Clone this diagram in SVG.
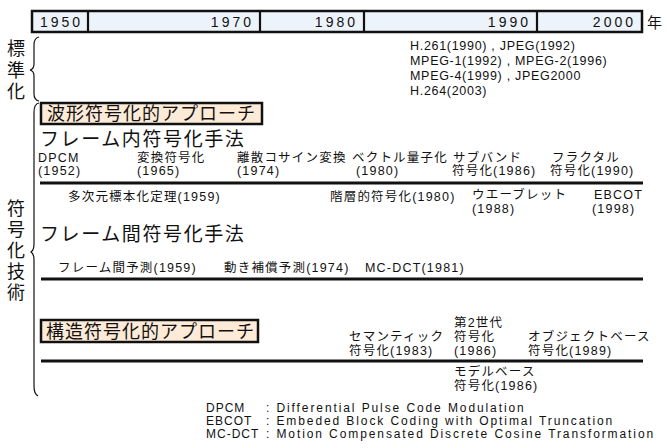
<svg xmlns="http://www.w3.org/2000/svg" width="667" height="448" viewBox="0 0 667 448">
<style>
text{font-family:"Liberation Sans","Noto Sans CJK JP",sans-serif;fill:#111}
.yr{font-size:14px;letter-spacing:3px}
.it{font-size:12.5px;letter-spacing:1.2px}
.std{font-size:12.5px;letter-spacing:0.7px}
.hd{font-size:19px;letter-spacing:1.6px}
.bx{font-size:18px;letter-spacing:1px}
.vt{font-size:18px}
.lg{font-size:12px;letter-spacing:1px}
.lgd{font-size:12px;letter-spacing:1.9px}
.box{fill:#FDEAD7;stroke:#111;stroke-width:2.5}
.rule{stroke:#111;stroke-width:3}
.brace{fill:none;stroke:#111;stroke-width:1.2}
</style>
<g id="timeline">
<rect x="32" y="11" width="610" height="21" fill="#EDF3FA" stroke="#111" stroke-width="2.5"/>
<g stroke="#111" stroke-width="2.2">
<line x1="88" y1="11" x2="88" y2="32"/>
<line x1="260" y1="11" x2="260" y2="32"/>
<line x1="364" y1="11" x2="364" y2="32"/>
<line x1="537" y1="11" x2="537" y2="32"/>
</g>
<text class="yr" x="40" y="27">1950</text>
<text class="yr" x="254" y="27" text-anchor="end">1970</text>
<text class="yr" x="358" y="27" text-anchor="end">1980</text>
<text class="yr" x="531" y="27" text-anchor="end">1990</text>
<text class="yr" x="636" y="27" text-anchor="end">2000</text>
<text x="647" y="28" font-size="15">年</text>
</g>
<g id="standard">
<text class="vt" x="16" y="55" text-anchor="middle">標</text>
<text class="vt" x="16" y="77" text-anchor="middle">準</text>
<text class="vt" x="16" y="98" text-anchor="middle">化</text>
<path class="brace" d="M39,37 Q34,38 34,45 L34,64 Q34,69 30,70 Q34,71 34,76 L34,94 Q34,100 39,101"/>
<text class="std" x="410" y="50">H.261(1990) , JPEG(1992)</text>
<text class="std" x="410" y="65">MPEG-1(1992) , MPEG-2(1996)</text>
<text class="std" x="410" y="80">MPEG-4(1999) , JPEG2000</text>
<text class="std" x="410" y="95">H.264(2003)</text>
</g>
<g id="coding">
<text class="vt" x="16" y="215" text-anchor="middle">符</text>
<text class="vt" x="16" y="236" text-anchor="middle">号</text>
<text class="vt" x="16" y="257" text-anchor="middle">化</text>
<text class="vt" x="16" y="278" text-anchor="middle">技</text>
<text class="vt" x="16" y="299" text-anchor="middle">術</text>
<path class="brace" d="M39,103 Q34,104 34,112 L34,244 Q34,250 31,252 Q34,254 34,260 L34,386 Q34,394 38,396"/>
</g>
<g id="waveform">
<rect class="box" x="41" y="103" width="221" height="21"/>
<text class="bx" x="47" y="120">波形符号化的アプローチ</text>
</g>
<g id="intra">
<text class="hd" x="40" y="146">フレーム内符号化手法</text>
<text class="it" x="38" y="162">DPCM</text>
<text class="it" x="38" y="175">(1952)</text>
<text class="it" x="137" y="162">変換符号化</text>
<text class="it" x="137" y="175">(1965)</text>
<text class="it" x="237" y="162">離散コサイン変換</text>
<text class="it" x="237" y="175">(1974)</text>
<text class="it" x="352" y="162">ベクトル量子化</text>
<text class="it" x="356" y="175">(1980)</text>
<text class="it" x="453" y="162">サブバンド</text>
<text class="it" x="452" y="175">符号化(1986)</text>
<text class="it" x="552" y="162">フラクタル</text>
<text class="it" x="550" y="175">符号化(1990)</text>
<text class="it" x="68" y="201">多次元標本化定理(1959)</text>
<text class="it" x="330" y="201">階層的符号化(1980)</text>
<text class="it" x="472" y="199">ウエーブレット</text>
<text class="it" x="472" y="213">(1988)</text>
<text class="it" x="594" y="199">EBCOT</text>
<text class="it" x="592" y="213">(1998)</text>
</g>
<g id="inter">
<text class="hd" x="40" y="241">フレーム間符号化手法</text>
<text class="it" x="58" y="272">フレーム間予測(1959)</text>
<text class="it" x="224" y="272">動き補償予測(1974)</text>
<text class="it" x="365" y="272">MC-DCT(1981)</text>
</g>
<g id="structural">
<rect class="box" x="41" y="320" width="217" height="22"/>
<text class="bx" x="46" y="338">構造符号化的アプローチ</text>
<text class="it" x="349" y="341">セマンティック</text>
<text class="it" x="349" y="355">符号化(1983)</text>
<text class="it" x="454" y="327">第2世代</text>
<text class="it" x="454" y="341">符号化</text>
<text class="it" x="454" y="355">(1986)</text>
<text class="it" x="528" y="341">オブジェクトベース</text>
<text class="it" x="528" y="355">符号化(1989)</text>
<text class="it" x="454" y="376">モデルベース</text>
<text class="it" x="454" y="390">符号化(1986)</text>
</g>
<g id="connectors">
<line class="rule" x1="40" y1="183" x2="643" y2="183"/>
<line class="rule" x1="41" y1="279" x2="643" y2="279"/>
<line class="rule" x1="41" y1="361" x2="643" y2="361"/>
</g>
<g id="legend">
<text class="lg" x="206" y="412">DPCM</text>
<text class="lgd" x="266" y="412">: Differential Pulse Code Modulation</text>
<text class="lg" x="206" y="425">EBCOT</text>
<text class="lgd" x="266" y="425">: Embeded Block Coding with Optimal Truncation</text>
<text class="lg" x="206" y="438">MC-DCT</text>
<text class="lgd" x="266" y="438">: Motion Compensated Discrete Cosine Transformation</text>
</g>
</svg>
